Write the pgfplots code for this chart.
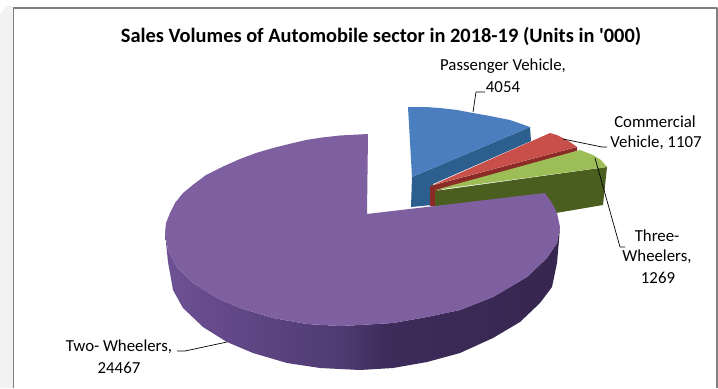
\documentclass[border=0pt]{standalone}
\usepackage{pgfplots}
\pgfplotsset{compat=1.18}
\usepackage{fontspec}
\setmainfont{Carlito}[Ligatures=TeXOff]
\definecolor{blueTop}{HTML}{4A7EBE}
\definecolor{blueSide}{HTML}{2C5E8E}
\definecolor{redTop}{HTML}{C9504A}
\definecolor{redSide}{HTML}{8A2B28}
\definecolor{greenTop}{HTML}{9DBD57}
\definecolor{greenSide}{HTML}{4A5E1F}
\definecolor{purpleTop}{HTML}{7E5F9F}
\definecolor{psA}{HTML}{6E5294}
\definecolor{psB}{HTML}{5E4584}
\definecolor{psC}{HTML}{4F3B72}
\definecolor{psD}{HTML}{3D2C5A}
\definecolor{psE}{HTML}{37264F}
\pgfdeclarehorizontalshading{purpleSide}{100bp}{
  color(0bp)=(psA);
  color(25bp)=(psA);
  color(36bp)=(psB);
  color(47bp)=(psC);
  color(53bp)=(psD);
  color(75bp)=(psE);
  color(100bp)=(psE)}
\newcommand{\labelfont}{\fontsize{16.8}{18}\selectfont}
\begin{document}
\begin{tikzpicture}
\begin{axis}[
  width=718pt, height=388pt, scale only axis,
  xmin=0, xmax=718, ymin=0, ymax=388, y dir=reverse,
  axis lines=none, clip=false,
  every axis plot/.append style={no marks, line join=round},
]
% page background and chart frame
\addplot[fill=white, draw=none] coordinates {(0,0)(718,0)(718,388)(0,388)} -- cycle;
\addplot[fill=black!5, draw=none] coordinates {(0,14)(6,6)(13,6)(13,388)(0,388)} -- cycle;
\addplot[draw=black!50, line width=1.2pt] coordinates {(13.5,388)(13.5,8)(717,8)(717,388)};

% passenger vehicle slice
\addplot[fill=blueSide, draw=none] coordinates {(412,177)(530,127)(531,141)(433,184)(432,205)(411,207)} -- cycle;
\addplot[fill=blueTop, draw=none] coordinates {(412,177)(408,107)(425,107)(440,108)(457,110)(473,113)(490,116)(510,120)(530,127)} -- cycle;

% commercial vehicle slice
\addplot[fill=redSide, draw=none] coordinates {(430,186)(577,147)(577,151)(436,191)(435,206)(430,206)} -- cycle;
\addplot[fill=redTop, draw=none] coordinates {(433,185)(550,133)(557,135)(563,138)(570,142)(577,147)} -- cycle;

% three-wheeler slice
\addplot[fill=greenSide, draw=none] coordinates {(435,191)(607,167)(603,205)(550,214)(435,214)} -- cycle;
\addplot[fill=greenTop, draw=none] coordinates {(435,190)(580,150)(593,155)(601,160)(607,167)} -- cycle;

% two-wheeler slice
\addplot[shading=purpleSide, draw=none] coordinates {
  (165,233)(168,250)(177,267)(193,283)(217,298)(240,308)(273,318)(307,324)(340,326)(360,325)
  (393,323)(427,317)(460,310)(493,297)(527,277)(547,258)(557,243)(560,227)
  (559,240)(557,263)(552,287)(540,303)(520,322)(493,338)(460,353)(427,362)(393,368)(360,370)
  (320,368)(287,363)(253,353)(227,342)(203,327)(183,308)(173,290)(168,262)} -- cycle;
\addplot[fill=purpleTop, draw=none] coordinates {
  (367,214)(368,134)(340,135.5)(322,137.5)(306,140)(289,144)(273,148)(256,153)(240,159)(222,167)(206,175)(194,184)(183,193)(175,203)(170,213)(166,223)(165,233)
  (168,250)(177,267)(193,283)(217,298)(240,308)(273,318)(307,324)(340,326)(360,325)
  (393,323)(427,317)(460,310)(493,297)(527,277)(547,258)(557,243)(560,227)(557,213)(552,203)(545,193)} -- cycle;

% leader lines
\addplot[black, line width=0.7pt] coordinates {(473,112)(476,92)(485,92)};
\addplot[black, line width=0.7pt] coordinates {(563,139)(602,147)(607,147)};
\addplot[black, line width=0.7pt] coordinates {(595,158)(620,247)(625,247)};
\addplot[black, line width=0.7pt] coordinates {(227,342)(185,351)(177,351)};

% title and slice labels
\node[font=\bfseries\fontsize{20.4}{22}\selectfont, text=black] at (axis cs:381,36) {Sales Volumes of Automobile sector in 2018-19 (Units in '000)};
\node[font=\labelfont] at (axis cs:503,66) {Passenger Vehicle,};
\node[font=\labelfont] at (axis cs:503,87) {4054};
\node[font=\labelfont] at (axis cs:655,122) {Commercial};
\node[font=\labelfont] at (axis cs:656,143) {Vehicle, 1107};
\node[font=\labelfont] at (axis cs:657,236) {Three-};
\node[font=\labelfont] at (axis cs:657,257) {Wheelers,};
\node[font=\labelfont] at (axis cs:658,278) {1269};
\node[font=\labelfont] at (axis cs:119,347) {Two- Wheelers,};
\node[font=\labelfont] at (axis cs:119,368) {24467};
\end{axis}
\end{tikzpicture}
\end{document}
